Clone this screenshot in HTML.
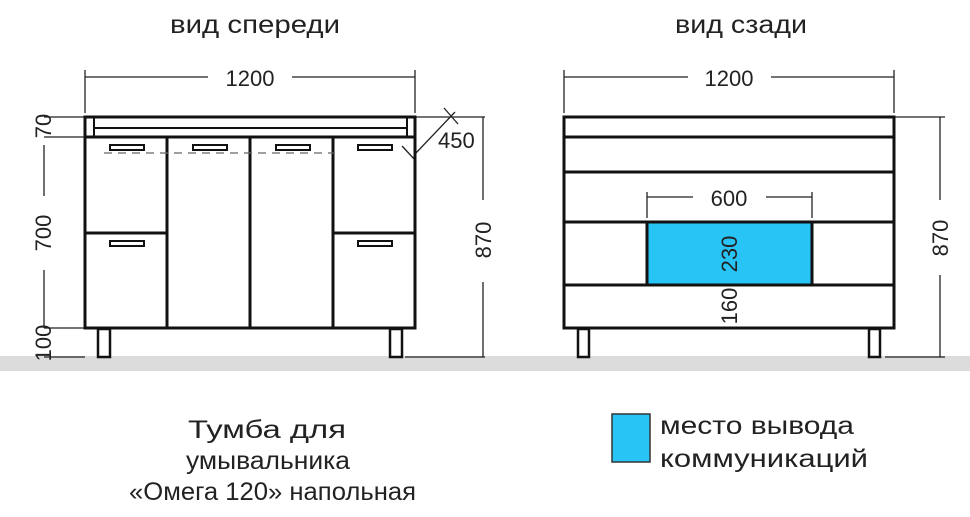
<!DOCTYPE html>
<html><head><meta charset="utf-8"><style>
html,body{margin:0;padding:0;background:#fff;width:970px;height:517px;overflow:hidden}
text{font-family:"Liberation Sans","DejaVu Sans",sans-serif;fill:#222}
</style></head><body>
<svg width="970" height="517" viewBox="0 0 970 517" xmlns="http://www.w3.org/2000/svg">
<rect x="0" y="356" width="970" height="15" fill="#dcdcdc"/>
<text x="170" y="33" font-size="25" textLength="170" lengthAdjust="spacingAndGlyphs">вид спереди</text>
<text x="675" y="33" font-size="25" textLength="132" lengthAdjust="spacingAndGlyphs">вид сзади</text>

<g stroke="#222" fill="none" stroke-width="1.3">
<line x1="85" y1="70" x2="85" y2="113"/><line x1="415" y1="70" x2="415" y2="113"/>
<line x1="85" y1="77" x2="208" y2="77"/><line x1="292" y1="77" x2="415" y2="77"/>
<line x1="44" y1="117" x2="85" y2="117"/><line x1="44" y1="137" x2="85" y2="137"/>
<line x1="44" y1="328" x2="85" y2="328"/><line x1="44" y1="357" x2="85" y2="357"/>
<line x1="44" y1="145" x2="44" y2="196"/><line x1="44" y1="270" x2="44" y2="328"/>
<line x1="415" y1="117" x2="485" y2="117"/><line x1="405" y1="357" x2="485" y2="357"/>
<line x1="483" y1="117" x2="483" y2="200"/><line x1="483" y1="282" x2="483" y2="357"/>
<line x1="415" y1="154" x2="455" y2="112"/>
<line x1="444" y1="108" x2="458" y2="124"/><line x1="402" y1="146" x2="416" y2="161"/>
<line x1="564" y1="70" x2="564" y2="113"/><line x1="894" y1="70" x2="894" y2="113"/>
<line x1="564" y1="77" x2="688" y2="77"/><line x1="771" y1="77" x2="894" y2="77"/>
<line x1="894" y1="117" x2="945" y2="117"/><line x1="885" y1="357" x2="945" y2="357"/>
<line x1="940" y1="117" x2="940" y2="200"/><line x1="940" y1="275" x2="940" y2="357"/>
<line x1="647" y1="192" x2="647" y2="218"/><line x1="812" y1="192" x2="812" y2="218"/>
<line x1="647" y1="197" x2="693" y2="197"/><line x1="766" y1="197" x2="812" y2="197"/>
</g>

<g stroke="#111" fill="none" stroke-width="3">
<rect x="85" y="117" width="330" height="20"/>
<line x1="94" y1="128" x2="407" y2="128" stroke-width="2"/>
<line x1="94" y1="117" x2="94" y2="137" stroke-width="2"/><line x1="407" y1="117" x2="407" y2="137" stroke-width="2"/>
<rect x="85" y="137" width="330" height="191"/>
<line x1="167" y1="137" x2="167" y2="328"/><line x1="250" y1="137" x2="250" y2="328"/><line x1="333" y1="137" x2="333" y2="328"/>
<line x1="85" y1="233" x2="167" y2="233"/><line x1="333" y1="233" x2="415" y2="233"/>
<rect x="98" y="329" width="12" height="28" stroke-width="2.5"/><rect x="390" y="329" width="12" height="28" stroke-width="2.5"/>
<rect x="564" y="117" width="330" height="211"/>
<line x1="564" y1="137" x2="894" y2="137"/><line x1="564" y1="172" x2="894" y2="172"/>
<line x1="564" y1="222" x2="894" y2="222"/><line x1="564" y1="285" x2="894" y2="285"/>
<rect x="647" y="222" width="165" height="63" fill="#29c4f6"/>
<rect x="578" y="329" width="11" height="28" stroke-width="2.5"/><rect x="869" y="329" width="11" height="28" stroke-width="2.5"/>
</g>
<g fill="#fff" stroke="#111" stroke-width="2">
<rect x="110" y="145" width="34" height="5"/><rect x="193" y="145" width="34" height="5"/>
<rect x="276" y="145" width="34" height="5"/><rect x="358" y="145" width="34" height="5"/>
<rect x="110" y="241" width="34" height="5"/><rect x="358" y="241" width="34" height="5"/>
</g>
<line x1="104" y1="153" x2="335" y2="153" stroke="#666" stroke-width="1.3" stroke-dasharray="8,6"/>

<g font-size="22">
<text x="250" y="86" text-anchor="middle">1200</text>
<text x="729" y="86" text-anchor="middle">1200</text>
<text x="729" y="206" text-anchor="middle">600</text>
<text x="438" y="148">450</text>
<text transform="translate(51,126) rotate(-90)" text-anchor="middle">70</text>
<text transform="translate(51,233) rotate(-90)" text-anchor="middle">700</text>
<text transform="translate(51,343) rotate(-90)" text-anchor="middle">100</text>
<text transform="translate(491,240) rotate(-90)" text-anchor="middle">870</text>
<text transform="translate(948,238) rotate(-90)" text-anchor="middle">870</text>
<text transform="translate(737,254) rotate(-90)" text-anchor="middle">230</text>
<text transform="translate(737,306) rotate(-90)" text-anchor="middle">160</text>
</g>

<g font-size="25">
<text x="188" y="438" textLength="158" lengthAdjust="spacingAndGlyphs">Тумба для</text>
<text x="186" y="469" textLength="164" lengthAdjust="spacingAndGlyphs">умывальника</text>
<text x="129" y="500" textLength="287" lengthAdjust="spacingAndGlyphs">«Омега 120» напольная</text>
</g>
<rect x="612" y="414" width="38" height="48" fill="#29c4f6" stroke="#333" stroke-width="1.5"/>
<g font-size="25">
<text x="660" y="434" textLength="194" lengthAdjust="spacingAndGlyphs">место вывода</text>
<text x="660" y="467" textLength="208" lengthAdjust="spacingAndGlyphs">коммуникаций</text>
</g>
</svg>
</body></html>
